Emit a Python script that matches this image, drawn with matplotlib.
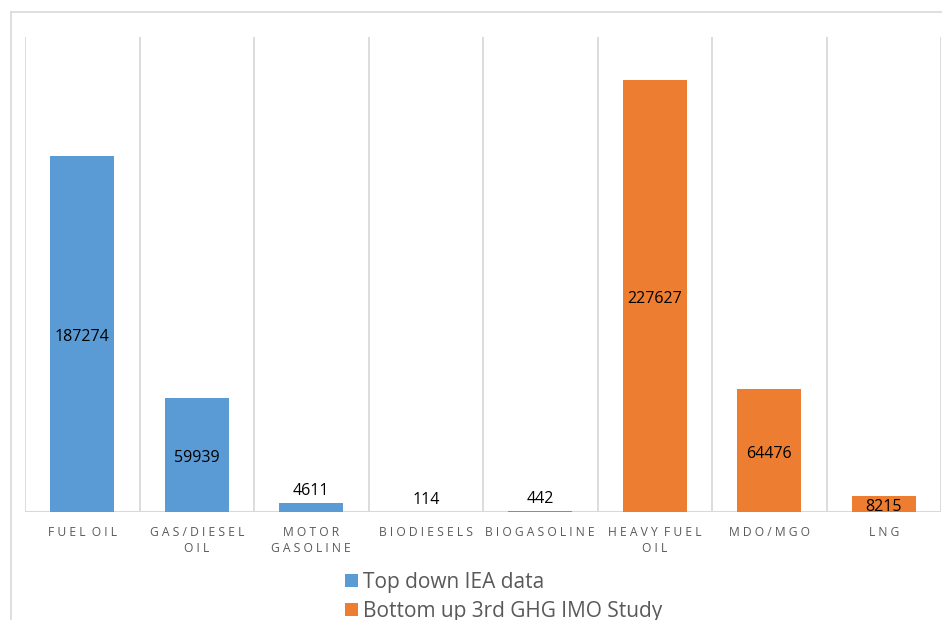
import matplotlib
matplotlib.use("Agg")
import matplotlib.pyplot as plt
from matplotlib.patches import Patch
from matplotlib.lines import Line2D

plt.rcParams['font.family'] = ['Open Sans', 'DejaVu Sans']

# Fuel consumption by fuel type (tonnes)
categories = ["FUEL OIL", "GAS/DIESEL\nOIL", "MOTOR\nGASOLINE", "BIODIESELS",
              "BIOGASOLINE", "HEAVY FUEL\nOIL", "MDO/MGO", "LNG"]
values = [187274, 59939, 4611, 114, 442, 227627, 64476, 8215]
series = ["Top down IEA data"] * 5 + ["Bottom up 3rd GHG IMO Study"] * 3
series_names = ["Top down IEA data", "Bottom up 3rd GHG IMO Study"]
series_colors = {"Top down IEA data": "#5B9BD5",
                 "Bottom up 3rd GHG IMO Study": "#ED7D31"}

W, H = 942, 620
fig = plt.figure(figsize=(W / 100, H / 100), dpi=100)

def fx(px):
    return px / W

def fy(py):
    return 1 - py / H

# chart frame
fig.add_artist(Line2D([fx(11), fx(942)], [fy(12), fy(12)], color="#d9d9d9", lw=1.2))
fig.add_artist(Line2D([fx(11), fx(11)], [fy(12), fy(620)], color="#d9d9d9", lw=1.2))

ax = fig.add_axes([fx(25), fy(512), fx(941) - fx(25), fy(37) - fy(512)])
ax.set_xlim(-0.5, len(categories) - 0.5)
ax.set_ylim(0, 250000)

# vertical gridlines at category boundaries
for b in range(len(categories) + 1):
    ax.axvline(b - 0.5, color="#d9d9d9", lw=1.3, zorder=0)

x = list(range(len(categories)))
colors = [series_colors[s] for s in series]
bars = ax.bar(x, values, width=0.56, color=colors, zorder=2)

for xi, v in zip(x, values):
    if v >= 8000:
        ax.annotate(f"{v}", (xi, v / 2), xytext=(0, -2), textcoords="offset points",
                    ha="center", va="center", fontsize=11.5, color="black", zorder=3)
    else:
        ax.annotate(f"{v}", (xi, v), xytext=(0, 3), textcoords="offset points",
                    ha="center", va="bottom", fontsize=11.5, color="black", zorder=3)

for s in ax.spines.values():
    s.set_visible(False)
ax.axhline(0, color="#d9d9d9", lw=1.5, zorder=1)
ax.set_yticks([])

def spaced(label):
    return "\n".join("  ".join(" ".join(word) for word in line.split(" "))
                     for line in label.split("\n"))

ax.set_xticks(x)
ax.set_xticklabels([spaced(c) for c in categories], fontsize=8.7, color="#595959",
                   linespacing=1.35)
ax.tick_params(axis="x", length=0, pad=10)

handles = [Patch(facecolor=series_colors[n], edgecolor="none", label=n)
           for n in series_names]
fig.legend(handles=handles, loc="upper left", bbox_to_anchor=(fx(345), fy(572)),
           frameon=False, fontsize=15, handlelength=0.6, handleheight=0.6,
           handletextpad=0.25, labelspacing=0.37, labelcolor="#595959",
           borderaxespad=0, borderpad=0)

fig.savefig("out.png", dpi=100, facecolor="white")
